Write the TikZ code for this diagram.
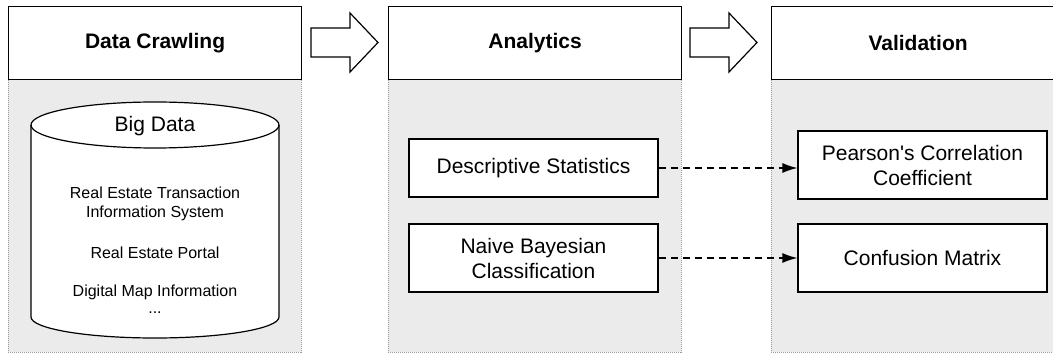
\documentclass[tikz,border=0pt]{standalone}
\usepackage{fontspec}
\setmainfont{Liberation Sans}
\usetikzlibrary{arrows.meta, positioning, calc}
\definecolor{panelgray}{HTML}{EBEBEB}
\definecolor{dotgray}{HTML}{9A9A9A}

\begin{document}
\begin{tikzpicture}[x=1pt, y=-1pt,
    header/.style={draw=black, line width=1.2pt, fill=white, anchor=north west, minimum width=293pt, minimum height=73pt, inner sep=0pt, font=\fontsize{21}{25}\selectfont\bfseries},
    panel/.style={draw=dotgray, fill=panelgray, line width=0.8pt, dash pattern=on 1pt off 1pt, anchor=north west, minimum width=293pt, minimum height=273pt, inner sep=0pt},
    taskbox/.style={draw=black, line width=1.1pt, fill=white, minimum width=249pt, minimum height=68pt, inner sep=0pt, align=center, font=\fontsize{21}{25}\selectfont},
    srctext/.style={align=center, inner sep=0pt, font=\fontsize{16}{19.5}\selectfont},
    flow/.style={-{Latex[length=15pt,width=10pt]}, line width=1.4pt, dash pattern=on 7pt off 5pt}]
    \useasboundingbox (0,0) rectangle (1053,355);
    %draws the three panels with their headers
    \node[panel] (pncrawl) at (8,79) {};
    \node[panel] (pnana) at (388,79) {};
    \node[panel] (pnval) at (771,79) {};
    \node[header] (hdcrawl) at (8,6) {Data Crawling};
    \node[header] (hdana) at (388,6) {Analytics};
    \node[header] (hdval) at (771,6) {Validation};
    %block arrows between the headers
    \foreach \ax in {311,690}
      \draw[line width=1.2pt, fill=white] (\ax,28) -- (\ax+39,28) -- (\ax+39,13) -- (\ax+67,42.5) -- (\ax+39,72) -- (\ax+39,57) -- (\ax,57) -- cycle;
    %draws the big data cylinder
    \draw[line width=1.2pt, fill=white] (31,125) -- (31,317) arc[start angle=180, end angle=360, x radius=124pt, y radius=21pt] -- (279,125) arc[start angle=0, end angle=180, x radius=124pt, y radius=23pt] -- cycle;
    \draw[line width=1.2pt] (31,125) arc[start angle=180, end angle=360, x radius=124pt, y radius=23pt];
    \node[font=\fontsize{21}{25}\selectfont, inner sep=0pt] (bigdata) at (155,126) {Big Data};
    \node[srctext] (rtms) at (155,204) {Real Estate Transaction\\Information System};
    \node[srctext] (portal) at (155,253) {Real Estate Portal};
    \node[srctext] (dmap) at (155,292) {Digital Map Information};
    \node[srctext] (etc) at (155,313) {...};
    %analytics and validation boxes
    \node[taskbox, minimum height=58pt] (desc) at (533.5,168) {Descriptive Statistics};
    \node[taskbox] (naive) at (533.5,258) {Naive Bayesian\\Classification};
    \node[taskbox] (pearson) at (922.5,165) {Pearson\textquotesingle s Correlation\\Coefficient};
    \node[taskbox] (confusion) at (922.5,258) {Confusion Matrix};
    %dashed links
    \draw[flow] (desc.east) -- (desc.east -| pearson.west);
    \draw[flow] (naive.east) -- (confusion.west);
\end{tikzpicture}
\end{document}
